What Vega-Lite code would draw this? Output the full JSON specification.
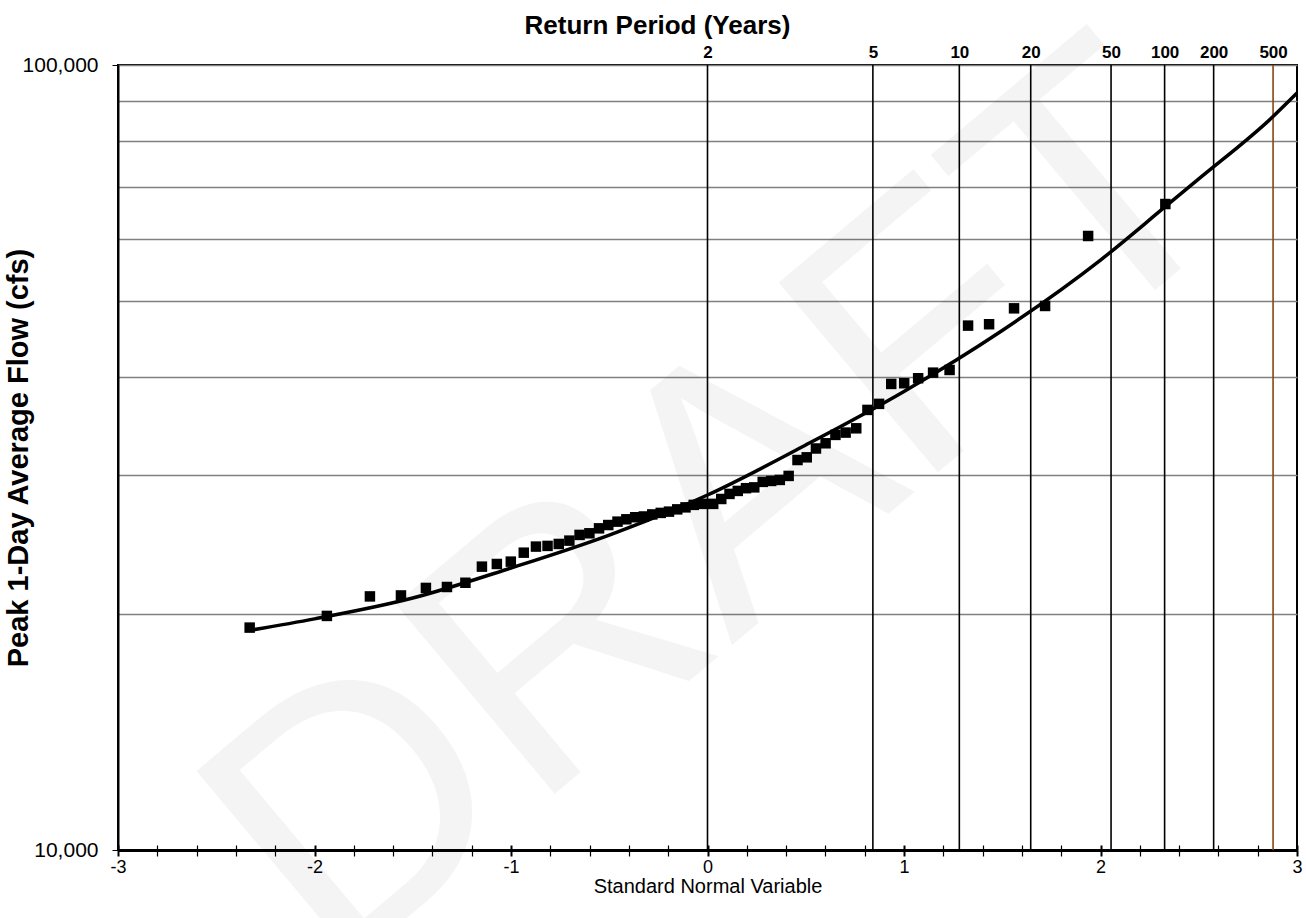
{
  "$schema": "https://vega.github.io/schema/vega-lite/v6.json",
  "width": 1179,
  "height": 785,
  "autosize": {"type": "none"},
  "padding": {"left": 118, "top": 65, "right": 9, "bottom": 68},
  "background": "white",
  "config": {"font": "Liberation Sans", "view": {"stroke": "black", "strokeWidth": 2}},
  "datasets": {
    "wm": [{"text": "DRAFT", "z": 0.08, "flow": 27000}],
    "rp": [
      {"T": "2", "z": 0},
      {"T": "5", "z": 0.8416},
      {"T": "10", "z": 1.2816},
      {"T": "20", "z": 1.6449},
      {"T": "50", "z": 2.0537},
      {"T": "100", "z": 2.3263},
      {"T": "200", "z": 2.5758},
      {"T": "500", "z": 2.8782}
    ],
    "fit": [
      {"z": -2.328, "flow": 19050},
      {"z": -2.0, "flow": 19700},
      {"z": -1.5, "flow": 20940},
      {"z": -1.0, "flow": 22870},
      {"z": -0.5, "flow": 25190},
      {"z": 0.0, "flow": 28330},
      {"z": 0.5, "flow": 32810},
      {"z": 1.0, "flow": 38390},
      {"z": 1.5, "flow": 45900},
      {"z": 2.0, "flow": 56430},
      {"z": 2.328, "flow": 65940},
      {"z": 2.5, "flow": 71600},
      {"z": 2.87, "flow": 85600},
      {"z": 3.0, "flow": 92100}
    ],
    "obs": [
      {"z": -2.330, "flow": 19200},
      {"z": -1.937, "flow": 19870},
      {"z": -1.718, "flow": 21040},
      {"z": -1.560, "flow": 21100},
      {"z": -1.433, "flow": 21570},
      {"z": -1.326, "flow": 21630},
      {"z": -1.232, "flow": 21900},
      {"z": -1.148, "flow": 22960},
      {"z": -1.072, "flow": 23140},
      {"z": -1.001, "flow": 23300},
      {"z": -0.935, "flow": 23920},
      {"z": -0.873, "flow": 24350},
      {"z": -0.814, "flow": 24400},
      {"z": -0.757, "flow": 24540},
      {"z": -0.703, "flow": 24780},
      {"z": -0.651, "flow": 25200},
      {"z": -0.601, "flow": 25320},
      {"z": -0.552, "flow": 25690},
      {"z": -0.505, "flow": 25940},
      {"z": -0.458, "flow": 26200},
      {"z": -0.413, "flow": 26380},
      {"z": -0.368, "flow": 26540},
      {"z": -0.324, "flow": 26600},
      {"z": -0.281, "flow": 26760},
      {"z": -0.238, "flow": 26880},
      {"z": -0.196, "flow": 26980},
      {"z": -0.154, "flow": 27160},
      {"z": -0.112, "flow": 27320},
      {"z": -0.070, "flow": 27520},
      {"z": -0.029, "flow": 27600},
      {"z": 0.029, "flow": 27600},
      {"z": 0.070, "flow": 28000},
      {"z": 0.112, "flow": 28420},
      {"z": 0.154, "flow": 28670},
      {"z": 0.196, "flow": 28900},
      {"z": 0.238, "flow": 28970},
      {"z": 0.281, "flow": 29440},
      {"z": 0.324, "flow": 29520},
      {"z": 0.368, "flow": 29610},
      {"z": 0.413, "flow": 29960},
      {"z": 0.458, "flow": 31390},
      {"z": 0.505, "flow": 31640},
      {"z": 0.552, "flow": 32470},
      {"z": 0.601, "flow": 32970},
      {"z": 0.651, "flow": 33790},
      {"z": 0.703, "flow": 34020},
      {"z": 0.757, "flow": 34450},
      {"z": 0.814, "flow": 36360},
      {"z": 0.873, "flow": 37010},
      {"z": 0.935, "flow": 39240},
      {"z": 1.001, "flow": 39320},
      {"z": 1.072, "flow": 39900},
      {"z": 1.148, "flow": 40560},
      {"z": 1.232, "flow": 40880},
      {"z": 1.326, "flow": 46560},
      {"z": 1.433, "flow": 46750},
      {"z": 1.560, "flow": 48980},
      {"z": 1.718, "flow": 49320},
      {"z": 1.937, "flow": 60560},
      {"z": 2.330, "flow": 66510}
    ]
  },
  "layer": [
    {
      "data": {"name": "wm"},
      "mark": {"type": "text", "fontSize": 360, "angle": -40, "align": "center", "baseline": "middle", "color": "black", "opacity": 0.04, "font": "Liberation Sans"},
      "encoding": {
        "x": {"field": "z", "type": "quantitative", "scale": {"domain": [-3, 3], "nice": false}, "axis": null},
        "y": {"field": "flow", "type": "quantitative", "scale": {"type": "log", "domain": [10000, 100000], "nice": false}, "axis": null},
        "text": {"field": "text"}
      }
    },
    {
      "data": {"name": "rp"},
      "mark": {"type": "rule", "strokeWidth": 1.6},
      "encoding": {
        "x": {
          "field": "z", "type": "quantitative",
          "scale": {"domain": [-3, 3], "nice": false},
          "axis": {
            "orient": "top",
            "values": [0, 0.8416, 1.2816, 1.6449, 2.0537, 2.3263, 2.5758, 2.8782],
            "labelExpr": "datum.value < 0.5 ? '2' : datum.value < 1 ? '5' : datum.value < 1.5 ? '10' : datum.value < 1.9 ? '20' : datum.value < 2.2 ? '50' : datum.value < 2.45 ? '100' : datum.value < 2.7 ? '200' : '500'",
            "ticks": false,
            "domain": false,
            "grid": false,
            "labelFontSize": 17,
            "labelFontWeight": "bold",
            "labelColor": "black",
            "labelPadding": 8,
            "labelBaseline": "alphabetic",
            "labelFlush": false,
            "labelOverlap": false,
            "title": "Return Period (Years)",
            "titleFontSize": 26,
            "titleFontWeight": "bold",
            "titleColor": "black",
            "titleX": 539,
            "titleY": -32,
            "titleAlign": "center",
            "titleBaseline": "alphabetic"
          }
        },
        "color": {"condition": {"test": "datum.T == '500'", "value": "#8B4513"}, "value": "black"}
      }
    },
    {
      "data": {"name": "fit"},
      "mark": {"type": "line", "color": "black", "strokeWidth": 3.5, "interpolate": "monotone"},
      "encoding": {
        "x": {
          "field": "z", "type": "quantitative",
          "scale": {"domain": [-3, 3], "nice": false},
          "axis": {
            "orient": "bottom",
            "values": [-3, -2.8, -2.6, -2.4, -2.2, -2, -1.8, -1.6, -1.4, -1.2, -1, -0.8, -0.6, -0.4, -0.2, 0, 0.2, 0.4, 0.6, 0.8, 1, 1.2, 1.4, 1.6, 1.8, 2, 2.2, 2.4, 2.6, 2.8, 3],
            "labels": false,
            "domain": false,
            "grid": false,
            "title": null,
            "tickSize": -5,
            "tickColor": "black",
            "tickWidth": {"condition": {"test": "datum.value % 1 == 0", "value": 2}, "value": 1.2}
          }
        },
        "y": {"field": "flow", "type": "quantitative", "scale": {"type": "log", "domain": [10000, 100000], "nice": false}, "axis": null}
      }
    },
    {
      "data": {"name": "obs"},
      "mark": {"type": "point", "shape": "square", "filled": true, "size": 110, "color": "black", "opacity": 1},
      "encoding": {
        "x": {
          "field": "z", "type": "quantitative",
          "scale": {"domain": [-3, 3], "nice": false},
          "axis": {
            "orient": "bottom",
            "values": [-3, -2.8, -2.6, -2.4, -2.2, -2, -1.8, -1.6, -1.4, -1.2, -1, -0.8, -0.6, -0.4, -0.2, 0, 0.2, 0.4, 0.6, 0.8, 1, 1.2, 1.4, 1.6, 1.8, 2, 2.2, 2.4, 2.6, 2.8, 3],
            "labelExpr": "datum.value % 1 == 0 ? '' + datum.value : ''",
            "grid": false,
            "tickSize": 6,
            "tickColor": "black",
            "tickWidth": {"condition": {"test": "datum.value % 1 == 0", "value": 2}, "value": 1.2},
            "domainColor": "black",
            "domainWidth": 3,
            "labelFontSize": 18,
            "labelColor": "black",
            "labelPadding": 16,
            "labelBaseline": "alphabetic",
            "labelFlush": false,
            "labelOverlap": false,
            "title": "Standard Normal Variable",
            "titleFontSize": 20,
            "titleFontWeight": "normal",
            "titleColor": "black",
            "titleX": 589.5,
            "titleY": 42,
            "titleAlign": "center",
            "titleBaseline": "alphabetic"
          }
        },
        "y": {
          "field": "flow", "type": "quantitative",
          "scale": {"type": "log", "domain": [10000, 100000], "nice": false},
          "axis": {
            "values": [10000, 20000, 30000, 40000, 50000, 60000, 70000, 80000, 90000, 100000],
            "labelExpr": "datum.value == 10000 || datum.value == 100000 ? format(datum.value, ',') : ''",
            "grid": true,
            "gridColor": "#808080",
            "gridWidth": 1.5,
            "tickSize": 6,
            "tickColor": "black",
            "tickOpacity": {"condition": {"test": "datum.value == 10000 || datum.value == 100000", "value": 1}, "value": 0},
            "domainColor": "black",
            "domainWidth": 2,
            "labelFontSize": 21,
            "labelColor": "black",
            "labelPadding": 14,
            "labelBaseline": "middle",
            "labelFlush": false,
            "labelOverlap": false,
            "title": "Peak 1-Day Average Flow (cfs)",
            "titleFontSize": 29,
            "titleFontWeight": "bold",
            "titleColor": "black",
            "titleAngle": 270,
            "titleX": -91,
            "titleY": 392.5,
            "titleAlign": "center",
            "titleBaseline": "alphabetic"
          }
        }
      }
    }
  ],
  "resolve": {"axis": {"x": "independent", "y": "independent"}}
}
